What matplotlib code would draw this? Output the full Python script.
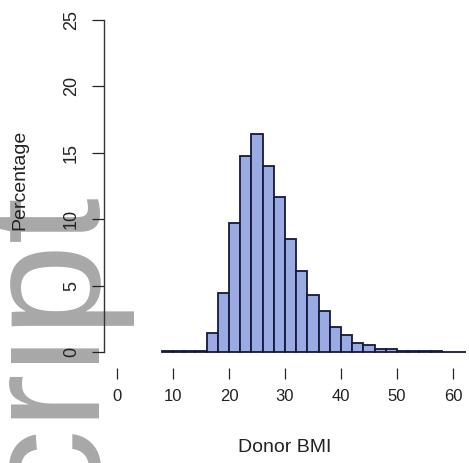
import matplotlib
matplotlib.use("Agg")
import matplotlib.pyplot as plt

# ---- data ----
bin_left = [8, 10, 12, 14, 16, 18, 20, 22, 24, 26, 28, 30, 32, 34, 36, 38,
            40, 42, 44, 46, 48, 50, 52, 54, 56, 58, 60, 62]
percent = [0.04, 0.06, 0.06, 0.10, 1.45, 4.45, 9.7, 14.75, 16.4, 14.0, 11.7,
           8.5, 6.1, 4.3, 3.1, 1.9, 1.3, 0.7, 0.5, 0.25, 0.2, 0.1, 0.06,
           0.05, 0.04, 0.03, 0.03, 0.02]
bin_width = 2
x_ticks = [0, 10, 20, 30, 40, 50, 60]
y_ticks = [0, 5, 10, 15, 20, 25]
x_label = "Donor BMI"
y_label = "Percentage"
watermark = "Author Manuscript"

font = "Liberation Sans"
txt_color = "#222222"

W, H, DPI = 469, 463, 100
fig = plt.figure(figsize=(W / DPI, H / DPI), dpi=DPI)
fig.patch.set_facecolor("white")

# watermark behind the chart
fig.text(100 / W, 1 - 197 / H, watermark, rotation=90, rotation_mode="anchor",
         ha="right", va="baseline", fontsize=120, family=font,
         color="#a8a8a8", zorder=-5)

ax_left, ax_right, ax_top, ax_bot = 103.6, 466.4, 6.7, 365.3
ax = fig.add_axes([ax_left / W, (H - ax_bot) / H,
                   (ax_right - ax_left) / W, (ax_bot - ax_top) / H])
ax.set_facecolor("none")
ax.bar(bin_left, percent, width=bin_width, align="edge", color="#9aabe3",
       edgecolor="#15193a", linewidth=1.3)
ax.set_xlim(-2.4, 62.4)
ax.set_ylim(-1, 26)

for s in ["top", "right", "bottom"]:
    ax.spines[s].set_visible(False)
ax.spines["left"].set_bounds(0, 25)
ax.spines["left"].set_color("#333333")
ax.spines["left"].set_linewidth(1.0)
ax.spines["bottom"].set_position(("outward", 2))

ax.set_xticks(x_ticks)
ax.set_yticks(y_ticks)
ax.tick_params(axis="x", length=8, width=0.9, color=txt_color, pad=7,
               direction="out")
ax.tick_params(axis="y", length=9, width=0.9, color=txt_color, pad=8,
               direction="out")
for lab in ax.get_xticklabels():
    lab.set_fontfamily(font)
    lab.set_fontsize(12)
    lab.set_color(txt_color)
for lab in ax.get_yticklabels():
    lab.set_fontfamily(font)
    lab.set_fontsize(13)
    lab.set_rotation(90)
    lab.set_va("center")
    lab.set_color(txt_color)

ax.set_xlabel(x_label, family=font, fontsize=14, color=txt_color, va="center")
ax.xaxis.set_label_coords(0.5, (ax_bot - 447) / (ax_bot - ax_top))
ax.set_ylabel(y_label, family=font, fontsize=14, color=txt_color, va="center")
ax.yaxis.set_label_coords((20 - ax_left) / (ax_right - ax_left),
                          (ax_bot - 180) / (ax_bot - ax_top))

fig.savefig("out.png", dpi=DPI)
